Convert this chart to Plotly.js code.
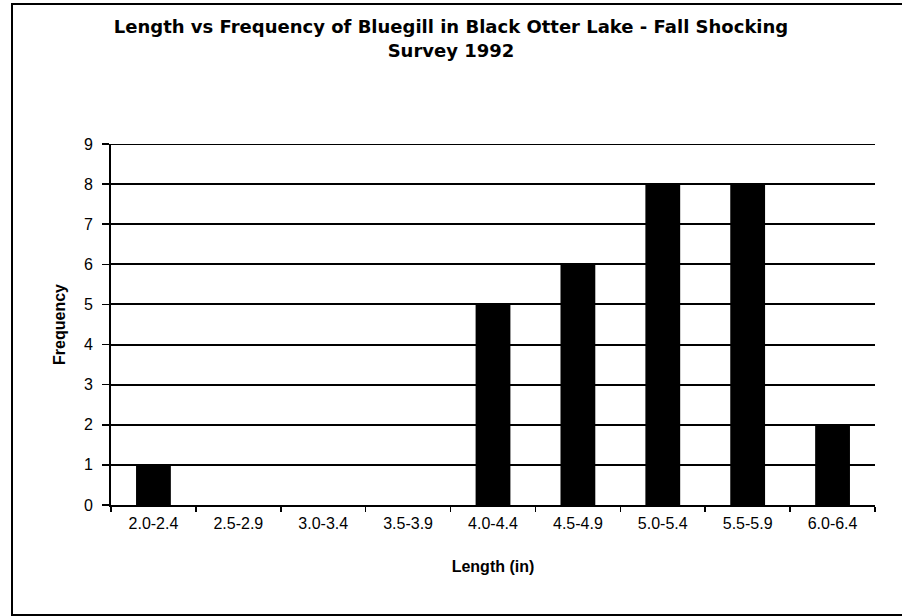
<!DOCTYPE html>
<html>
<head>
<meta charset="utf-8">
<script src="https://cdn.plot.ly/plotly-3.0.1.min.js"></script>
<style>
  html, body { margin: 0; padding: 0; background: #fff; }
  #wrap { position: relative; width: 902px; height: 616px; overflow: hidden; }
  #chart { width: 902px; height: 616px; }
  #frame {
    position: absolute; left: 11px; top: 3px; width: 900px; height: 609px;
    border: 2px solid #000; pointer-events: none;
  }
</style>
</head>
<body>
<div id="wrap">
  <div id="chart"></div>
  <div id="frame"></div>
</div>
<script>
// Length classes (inches) and number of bluegill caught in each
const lengthClasses = ["2.0-2.4", "2.5-2.9", "3.0-3.4", "3.5-3.9", "4.0-4.4",
                       "4.5-4.9", "5.0-5.4", "5.5-5.9", "6.0-6.4"];
const frequency = [1, 0, 0, 0, 5, 6, 8, 8, 2];
const yTicks = [0, 1, 2, 3, 4, 5, 6, 7, 8, 9];

const titleFont = "DejaVu Sans, Verdana, sans-serif";
const font = "Liberation Sans, Arial, Helvetica, sans-serif";
const yMax = yTicks[yTicks.length - 1];

const trace = {
  type: "bar",
  x: lengthClasses,
  y: frequency,
  marker: { color: "#000000", line: { width: 0 } },
  hoverinfo: "x+y"
};

const layout = {
  width: 902,
  height: 616,
  paper_bgcolor: "#ffffff",
  plot_bgcolor: "#ffffff",
  margin: { l: 111, r: 27, t: 144, b: 111 },
  bargap: 0.59,
  showlegend: false,
  title: {
    text: "<b>Length vs Frequency of Bluegill in Black Otter Lake - Fall Shocking<br>Survey 1992</b>",
    font: { family: titleFont, size: 18, color: "#000" },
    x: 0.5, xanchor: "center",
    y: 0.946, yanchor: "top"
  },
  xaxis: {
    type: "category",
    tickvals: lengthClasses,
    ticktext: lengthClasses,
    tickson: "boundaries",
    ticks: "outside",
    ticklen: 5,
    tickwidth: 1.5,
    tickcolor: "#000",
    ticklabelstandoff: 3,
    showline: true,
    linecolor: "#000",
    linewidth: 2,
    showgrid: false,
    zeroline: false,
    tickfont: { family: font, size: 16, color: "#000" },
    title: { text: "<b>Length (in)</b>", font: { family: font, size: 16, color: "#000" }, standoff: 30 }
  },
  yaxis: {
    range: [0, yMax],
    tickvals: yTicks,
    ticktext: yTicks.map(String),
    ticks: "outside",
    ticklen: 7,
    tickwidth: 1.5,
    tickcolor: "#000",
    ticklabelstandoff: 6,
    showline: true,
    linecolor: "#000",
    linewidth: 2,
    showgrid: true,
    gridcolor: "#000",
    gridwidth: 2,
    zeroline: false,
    tickfont: { family: font, size: 16, color: "#000" },
    title: { text: "<b>Frequency</b>", font: { family: font, size: 16, color: "#000" }, standoff: 14 }
  },
  // top gridline at the axis maximum
  shapes: [{
    type: "line", xref: "paper", x0: 0, x1: 1, yref: "y", y0: yMax, y1: yMax,
    line: { color: "#000", width: 2 }, layer: "below"
  }]
};

Plotly.newPlot("chart", [trace], layout, { displayModeBar: false, staticPlot: true });
</script>
</body>
</html>
